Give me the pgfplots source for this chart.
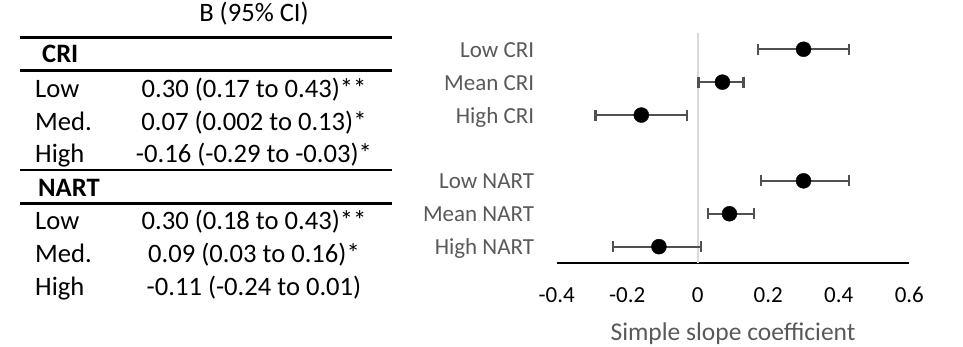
\documentclass[border=0pt]{standalone}
\usepackage{pgfplots}
\pgfplotsset{compat=1.18}
\usepackage{fontspec}
\setmainfont{Carlito}
\definecolor{labelgray}{HTML}{595959}
\definecolor{bargray}{HTML}{505050}
\definecolor{zerogray}{HTML}{D9D9D9}
\newcommand{\tfont}{\fontsize{26.6}{31}\selectfont}
\newcommand{\afont}{\fontsize{25.5}{30}\selectfont}
\newcommand{\cfont}{\fontsize{23}{27}\selectfont}
\begin{document}
\begin{tikzpicture}
\path[use as bounding box] (0pt,0pt) rectangle (963pt,347pt);
% ---- table ----
\begin{scope}[every node/.style={inner sep=0pt, font=\tfont}]
\node[anchor=base] at (254pt,{(347-21.5)*1pt}) {B (95\% CI)};
\draw[line width=2.5pt] (20pt,{(347-37.3)*1pt}) -- (392pt,{(347-37.3)*1pt});
\node[anchor=base west] at (42pt,{(347-63)*1pt}) {\bfseries CRI};
\draw[line width=2.5pt] (20pt,{(347-70.7)*1pt}) -- (392pt,{(347-70.7)*1pt});
\node[anchor=base west] at (35pt,{(347-97.5)*1pt}) {Low};
\node[anchor=base] at (254pt,{(347-97.5)*1pt}) {0.30 (0.17 to 0.43)**};
\node[anchor=base west] at (35pt,{(347-130.5)*1pt}) {Med.};
\node[anchor=base] at (254pt,{(347-130.5)*1pt}) {0.07 (0.002 to 0.13)*};
\node[anchor=base west] at (35pt,{(347-163)*1pt}) {High};
\node[anchor=base] at (254pt,{(347-163)*1pt}) {-0.16 (-0.29 to -0.03)*};
\draw[line width=2.5pt] (20pt,{(347-170)*1pt}) -- (392pt,{(347-170)*1pt});
\node[anchor=base west] at (38pt,{(347-196.5)*1pt}) {\bfseries NART};
\draw[line width=2.5pt] (20pt,{(347-203.3)*1pt}) -- (392pt,{(347-203.3)*1pt});
\node[anchor=base west] at (35pt,{(347-230)*1pt}) {Low};
\node[anchor=base] at (254pt,{(347-230)*1pt}) {0.30 (0.18 to 0.43)**};
\node[anchor=base west] at (35pt,{(347-263)*1pt}) {Med.};
\node[anchor=base] at (254pt,{(347-263)*1pt}) {0.09 (0.03 to 0.16)*};
\node[anchor=base west] at (35pt,{(347-295.5)*1pt}) {High};
\node[anchor=base] at (254pt,{(347-295.5)*1pt}) {-0.11 (-0.24 to 0.01)};
\end{scope}
% ---- forest plot ----
\begin{axis}[
  at={(556.7pt,83.9pt)}, anchor=south west,
  scale only axis, width=352.6pt, height=230.3pt,
  xmin=-0.4, xmax=0.6, ymin=0.5, ymax=7.5,
  clip=false,
  axis x line=bottom, axis y line=left,
  x axis line style={-, line width=1.5pt, black},
  y axis line style={draw=none},
  major tick length=0pt,
  xtick={-0.4,-0.2,0,0.2,0.4,0.6},
  xticklabels={-0.4,-0.2,0,0.2,0.4,0.6},
  /pgf/number format/assume math mode=true,
  xticklabel style={anchor=base, inner sep=0pt, yshift=-39.5pt, font=\cfont, text=black},
  ytick={1,2,3,5,6,7},
  yticklabels={High NART,Mean NART,Low NART,High CRI,Mean CRI,Low CRI},
  yticklabel style={anchor=base east, inner sep=0pt, xshift=-22.4pt, yshift=-8pt, font=\cfont, text=labelgray},
]
\addplot[draw=zerogray, line width=2pt] coordinates {(0,0.5) (0,7.5)};
\addplot[only marks, mark=*, mark size=7.5pt, black,
  error bars/.cd, x dir=both, x explicit, error mark=|,
  error bar style={line width=2.2pt, draw=bargray},
  error mark options={line width=2.2pt, mark size=5.5pt, draw=bargray}]
  table[x=b, y=pos, x error plus=ep, x error minus=em] {
  pos b ep em
  7 0.30 0.13 0.13
  6 0.07 0.06 0.068
  5 -0.16 0.13 0.13
  3 0.30 0.13 0.12
  2 0.09 0.07 0.06
  1 -0.11 0.12 0.13
};
\node[anchor=base, inner sep=0pt, font=\afont, text=labelgray] at (axis cs:0.1,0.5) [yshift=-77.5pt] {Simple slope coefficient};
\end{axis}
\end{tikzpicture}
\end{document}
